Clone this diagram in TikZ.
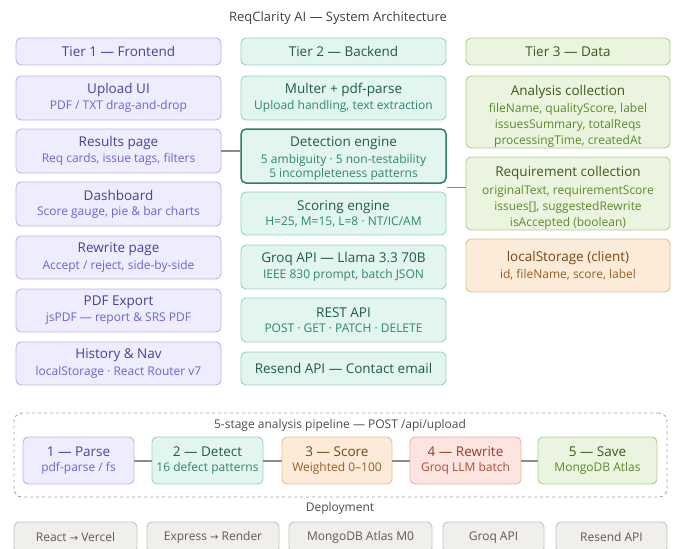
\documentclass[tikz,border=0pt]{standalone}
\usepackage{fontspec}
\setmainfont{Open Sans}
\newfontfamily\arrowfont{DejaVu Sans}
\usetikzlibrary{calc}
\definecolor{tafill}{HTML}{EEEDFD}\definecolor{tadraw}{HTML}{B9B3F1}\definecolor{tatitle}{HTML}{4A3F9C}\definecolor{tasub}{HTML}{6F62D6}
\definecolor{tbfill}{HTML}{E2F5EE}\definecolor{tbdraw}{HTML}{94D4BF}\definecolor{tbtitle}{HTML}{1D5C4C}\definecolor{tbsub}{HTML}{2B8A6B}\definecolor{tbdark}{HTML}{2E7D65}
\definecolor{tcfill}{HTML}{EBF4DE}\definecolor{tcdraw}{HTML}{ADD08C}\definecolor{tctitle}{HTML}{3B5A1C}\definecolor{tcsub}{HTML}{5C8B2C}
\definecolor{orfill}{HTML}{FBEBD8}\definecolor{ordraw}{HTML}{E5C090}\definecolor{ortitle}{HTML}{7A4510}\definecolor{orsub}{HTML}{98601F}
\definecolor{rdfill}{HTML}{FCE5E0}\definecolor{rddraw}{HTML}{EDB0A5}\definecolor{rdtitle}{HTML}{9B3A28}\definecolor{rdsub}{HTML}{B04A38}
\definecolor{gyfill}{HTML}{F1EFEB}\definecolor{gydraw}{HTML}{C8C4BC}\definecolor{gytext}{HTML}{5E5A53}
\definecolor{linegray}{HTML}{8A8A8A}
\newcommand\ttl{\fontsize{13.5}{16}\selectfont}
\newcommand\sbt{\fontsize{12}{15}\selectfont}
\newcommand\arr{{\arrowfont\fontsize{10}{12}\selectfont →}}
\newcommand\bx[7]{%
\pgfmathsetmacro\bxw{#5-#3}\pgfmathsetmacro\bxh{#6-#4}%
\node[#2, minimum width=\bxw pt, minimum height=\bxh pt] (#1) at ({(#3+#5)/2},{(#4+#6)/2}) {#7};}
\begin{document}
\begin{tikzpicture}[x=1pt,y=-1pt,
  base/.style={rounded corners=5pt, line width=0.9pt, inner sep=0pt, align=center},
  ta/.style={base, fill=tafill, draw=tadraw, text=tatitle},
  tb/.style={base, fill=tbfill, draw=tbdraw, text=tbtitle},
  tbd/.style={base, fill=tbfill, draw=tbdark, line width=1.5pt, text=tbtitle},
  tc/.style={base, fill=tcfill, draw=tcdraw, text=tctitle},
  to/.style={base, fill=orfill, draw=ordraw, text=ortitle},
  tr/.style={base, fill=rdfill, draw=rddraw, text=rdtitle},
  tg/.style={base, fill=gyfill, draw=gydraw, text=gytext},
  conn/.style={draw=linegray, line width=1.5pt},
  lbl/.style={text=black!75, inner sep=0pt}]
\useasboundingbox (0,0) rectangle (675,549);
\node[lbl] (title) at (338,18) {\fontsize{13}{15}\selectfont ReqClarity AI — System Architecture};
% Tier 1
\bx{h1}{ta}{16}{38}{221}{65}{\ttl Tier 1 — Frontend}
\bx{up}{ta}{16}{76}{221}{120}{\ttl Upload UI\\[3pt]\sbt\color{tasub}PDF / TXT drag-and-drop}
\bx{res}{ta}{16}{129}{221}{173}{\ttl Results page\\[3pt]\sbt\color{tasub}Req cards, issue tags, filters}
\bx{dash}{ta}{16}{182}{221}{226}{\ttl Dashboard\\[3pt]\sbt\color{tasub}Score gauge, pie \& bar charts}
\bx{rew}{ta}{16}{236}{221}{279}{\ttl Rewrite page\\[3pt]\sbt\color{tasub}Accept / reject, side-by-side}
\bx{pdf}{ta}{16}{289}{221}{332}{\ttl PDF Export\\[3pt]\sbt\color{tasub}jsPDF — report \& SRS PDF}
\bx{hist}{ta}{16}{342}{221}{385}{\ttl History \& Nav\\[3pt]\sbt\color{tasub}localStorage · React Router v7}
% Tier 2
\bx{h2}{tb}{241}{38}{446}{65}{\ttl Tier 2 — Backend}
\bx{mult}{tb}{241}{76}{446}{120}{\ttl Multer + pdf-parse\\[3pt]\sbt\color{tbsub}Upload handling, text extraction}
\bx{det}{tbd}{241}{129}{446}{183}{\ttl\rule{0pt}{15pt}Detection engine\\[4pt]\sbt\color{tbsub}5 ambiguity · 5 non-testability\\[2pt]\sbt\color{tbsub}5 incompleteness patterns}
\bx{scor}{tb}{241}{192}{446}{235}{\ttl Scoring engine\\[3pt]\sbt\color{tbsub}H=25, M=15, L=8 · NT/IC/AM}
\bx{groq}{tb}{241}{245}{446}{289}{\ttl Groq API — Llama 3.3 70B\\[3pt]\sbt\color{tbsub}IEEE 830 prompt, batch JSON}
\bx{rest}{tb}{241}{298}{446}{342}{\ttl REST API\\[3pt]\sbt\color{tbsub}POST · GET · PATCH · DELETE}
\bx{resend}{tb}{241}{352}{446}{385}{\ttl Resend API — Contact email}
% Tier 3
\bx{h3}{tc}{466}{38}{670}{65}{\ttl Tier 3 — Data}
\bx{ana}{tc}{466}{76}{670}{148}{\ttl\rule{0pt}{19pt}Analysis collection\\[4pt]\sbt\color{tcsub}fileName, qualityScore, label\\[4pt]\sbt\color{tcsub}issuesSummary, totalReqs\\[4pt]\sbt\color{tcsub}processingTime, createdAt}
\bx{reqc}{tc}{466}{157}{670}{230}{\ttl\rule{0pt}{19pt}Requirement collection\\[4pt]\sbt\color{tcsub}originalText, requirementScore\\[4pt]\sbt\color{tcsub}issues[], suggestedRewrite\\[4pt]\sbt\color{tcsub}isAccepted (boolean)}
\bx{ls}{to}{466}{239}{670}{292}{\ttl localStorage (client)\\[3pt]\sbt\color{orsub}id, fileName, score, label}
% connectors between tiers
\draw[conn] (res.east) -- (det.west |- res.east);
\coordinate (mid) at ($(det.south east)!0.5!(scor.north east)$);
\draw[conn] (mid) -- (reqc.west |- mid);
% pipeline
\node[draw=black!35, dashed, line width=0.9pt, rounded corners=8pt, minimum width=653pt, minimum height=84pt, inner sep=0pt] (pipe) at (340.5,455) {};
\node[lbl, text=black!70] (pipet) at (340,425) {\fontsize{12}{14}\selectfont 5-stage analysis pipeline — POST /api/upload};
\bx{s1}{ta}{23}{437}{134}{484}{\ttl 1 — Parse\\[3pt]\sbt\color{tasub}pdf-parse / fs}
\bx{s2}{tb}{152}{437}{263}{484}{\ttl 2 — Detect\\[3pt]\sbt\color{tbsub}16 defect patterns}
\bx{s3}{to}{282}{437}{392}{484}{\ttl 3 — Score\\[3pt]\sbt\color{orsub}Weighted 0–100}
\bx{s4}{tr}{410}{437}{521}{484}{\ttl 4 — Rewrite\\[3pt]\sbt\color{rdsub}Groq LLM batch}
\bx{s5}{tc}{538}{437}{657}{484}{\ttl 5 — Save\\[3pt]\sbt\color{tcsub}MongoDB Atlas}
\draw[conn, draw=black!45, line width=2pt] (s1) -- (s2);
\draw[conn, draw=black!45, line width=2pt] (s2) -- (s3);
\draw[conn, draw=black!45, line width=2pt] (s3) -- (s4);
\draw[conn, draw=black!45, line width=2pt] (s4) -- (s5);
% deployment
\node[lbl, text=black!70] (dep) at (340,508) {\fontsize{12}{14}\selectfont Deployment};
\bx{d1}{tg}{14}{522}{137}{553}{\sbt\raisebox{1pt}{React \arr{} Vercel}}
\bx{d2}{tg}{147}{522}{279}{553}{\sbt\raisebox{1pt}{Express \arr{} Render}}
\bx{d3}{tg}{289}{522}{432}{553}{\sbt\raisebox{1pt}{MongoDB Atlas M0}}
\bx{d4}{tg}{443}{522}{544}{553}{\sbt\raisebox{1pt}{Groq API}}
\bx{d5}{tg}{556}{522}{667}{553}{\sbt\raisebox{1pt}{Resend API}}
\end{tikzpicture}
\end{document}
